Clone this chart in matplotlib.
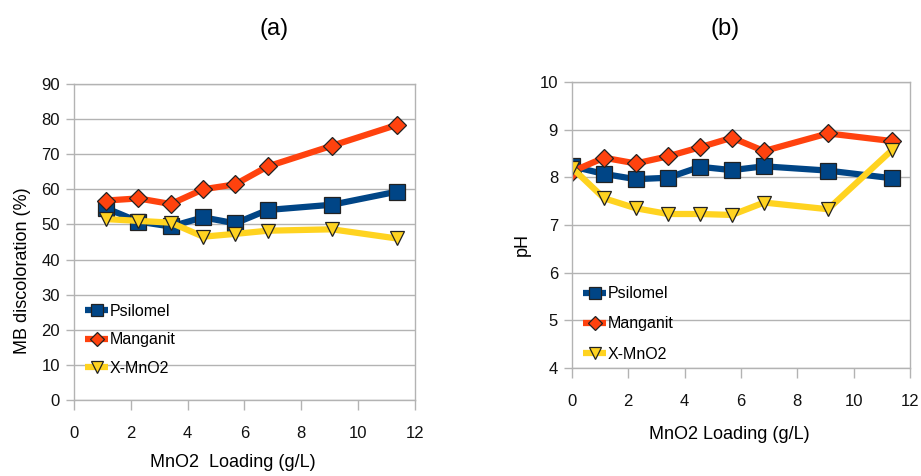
import numpy as np
import matplotlib
matplotlib.use("Agg")
import matplotlib.pyplot as plt

plt.rcParams['font.family'] = ['Liberation Sans', 'DejaVu Sans']

# loading steps (g/L)
load_a = [1.14, 2.27, 3.41, 4.55, 5.68, 6.82, 9.09, 11.36]
load_b = [0, 1.14, 2.27, 3.41, 4.55, 5.68, 6.82, 9.09, 11.36]

# (a) MB discoloration (%)
psilomel_a = [54.6, 50.8, 49.4, 52.0, 50.3, 54.1, 55.6, 59.3]
manganit_a = [56.8, 57.4, 55.8, 60.0, 61.4, 66.5, 72.4, 78.3]
xmno2_a = [51.5, 51.0, 50.5, 46.5, 47.3, 48.2, 48.6, 46.0]

# (b) pH
psilomel_b = [8.23, 8.07, 7.96, 7.99, 8.22, 8.15, 8.23, 8.14, 7.98]
manganit_b = [8.12, 8.41, 8.29, 8.44, 8.63, 8.83, 8.55, 8.92, 8.76]
xmno2_b = [8.20, 7.56, 7.35, 7.23, 7.23, 7.21, 7.47, 7.33, 8.57]

names = ['Psilomel', 'Manganit', 'X-MnO2']
cols = ['#004586', '#ff420e', '#ffd320']
marks = ['s', 'D', 'v']
msizes = [11.5, 9, 10.5]
edge = '#222222'
gridc = '#b3b3b3'


def style_axes(ax, ylim, yticks):
    ax.set_xlim(0, 12)
    ax.set_xticks(np.arange(0, 13, 2))
    ax.set_ylim(*ylim)
    ax.set_yticks(yticks)
    ax.grid(axis='y', color=gridc, linewidth=1)
    ax.set_axisbelow(True)
    for s in ax.spines.values():
        s.set_color(gridc)
        s.set_linewidth(1)
    ax.tick_params(axis='both', direction='out', width=1,
                   color=gridc, labelsize=12, labelcolor='#111111')
    ax.tick_params(axis='x', length=7.5, pad=11)
    ax.tick_params(axis='y', length=6, pad=4)


def plot_series(ax, x, series):
    for y, n, c, m, ms in zip(series, names, cols, marks, msizes):
        ax.plot(x, y, color=c, linewidth=4.5, marker=m, markersize=ms,
                markerfacecolor=c, markeredgecolor=edge, markeredgewidth=0.9,
                label=n, solid_joinstyle='round', solid_capstyle='butt')


def place_labels(ax, xl, yl):
    ax.xaxis.label.set_va('center')
    ax.yaxis.label.set_va('center')
    ax.yaxis.label.set_ha('center')
    ax.xaxis.set_label_coords(*xl)
    ax.yaxis.set_label_coords(*yl)


fig = plt.figure(figsize=(9.21, 4.76), dpi=100)

ax1 = fig.add_axes([0.0803, 0.1597, 0.370, 0.664])
plot_series(ax1, load_a, [psilomel_a, manganit_a, xmno2_a])
style_axes(ax1, (0, 90), np.arange(0, 91, 10))
ax1.set_ylabel('MB discoloration (%)', fontsize=13)
ax1.set_xlabel('MnO2  Loading (g/L)', fontsize=13)
place_labels(ax1, (0.465, -0.199), (-0.150, 0.408))
ax1.legend(loc='upper left', bbox_to_anchor=(0.0, 0.34), frameon=False,
           fontsize=11.5, handlelength=1.45, handletextpad=0.1,
           labelspacing=0.85, borderaxespad=0.3, markerscale=0.8)

ax2 = fig.add_axes([0.621, 0.2269, 0.367, 0.601])
plot_series(ax2, load_b, [psilomel_b, manganit_b, xmno2_b])
style_axes(ax2, (4, 10), np.arange(4, 11, 1))
ax2.set_ylabel('pH', fontsize=13)
ax2.set_xlabel('MnO2 Loading (g/L)', fontsize=13)
place_labels(ax2, (0.467, -0.234), (-0.148, 0.43))
ax2.legend(loc='upper left', bbox_to_anchor=(0.0, 0.325), frameon=False,
           fontsize=11.5, handlelength=1.45, handletextpad=0.1,
           labelspacing=0.95, borderaxespad=0.3, markerscale=0.8)

# panel tags
fig.text(274 / 921, 1 - 29 / 476, '(a)', fontsize=17, ha='center', va='center')
fig.text(725 / 921, 1 - 29 / 476, '(b)', fontsize=17, ha='center', va='center')

fig.savefig('out.png', dpi=100)
